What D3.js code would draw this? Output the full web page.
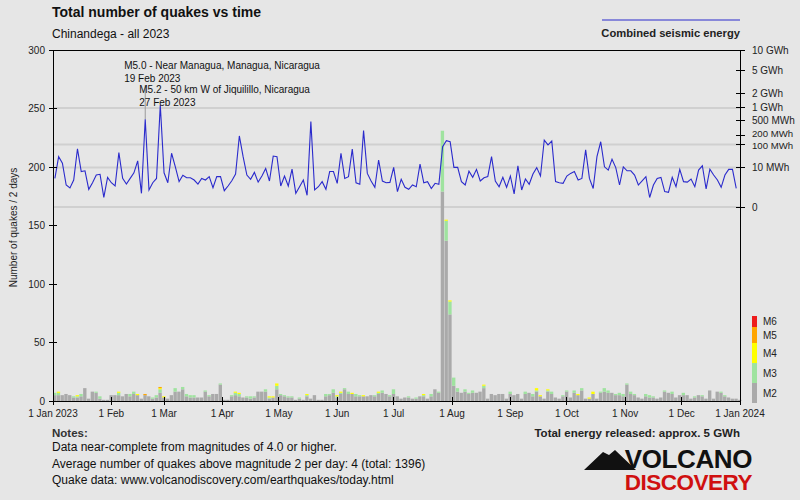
<!DOCTYPE html>
<html><head><meta charset="utf-8">
<script src="https://cdn.jsdelivr.net/npm/d3@7"></script>
<style>body{margin:0;background:#e6e6e6;} svg{display:block;font-family:'Liberation Sans',Arial,sans-serif;}</style>
</head><body><svg id="c" width="800" height="500"></svg>
<script>
// ---------- DATA ----------
const binStart = "2023-01-01";
const binDays = 2;
const m2 = [5,5,5,6,5,3,3,4,11,2, 8,7,2,1,1,5,5,5,4,6, 4,6,5,2,5,4,2,3,7,3, 2,5,8,8,10,4,3,3,3,3,
  8,4,6,6,14,1,1,4,5,4, 3,3,2,3,8,8,8,2,3,10, 5,4,3,3,1,2,1,4,2,5, 1,1,4,5,7,3,6,10,6,6,
  4,4,4,4,5,4,6,7,6,4, 6,4,2,3,3,2,2,4,4,2, 4,10,7,179,137,74,13,8,7,8, 6,7,7,8,11,2,6,5,6,6,
  2,6,5,6,2,6,7,4,8,4, 2,8,6,3,2,4,8,3,7,5, 9,2,2,6,2,7,8,7,7,5, 5,4,14,6,5,3,2,4,3,3,
  2,3,8,7,6,3,5,5,5,2, 3,5,4,2,9,2,8,7,4,3, 2,2,1];
const m3 = [2,2,0,0,0,1,1,2,0,0, 0,1,2,0,0,0,0,2,0,0, 2,2,0,0,0,0,1,2,3,0, 0,0,3,0,2,2,2,2,0,0,
  1,1,0,0,1,0,0,1,2,2, 0,1,2,1,0,0,2,1,0,3, 1,1,1,1,0,1,0,1,0,0, 0,0,2,1,3,1,1,1,2,0,
  2,1,0,0,0,1,1,2,0,1, 4,0,0,0,1,0,1,0,1,0, 2,0,1,52,17,11,7,3,0,2, 1,2,0,0,2,0,0,0,0,0,
  0,2,0,0,0,2,0,2,1,0, 0,1,2,0,0,1,1,0,2,0, 2,0,0,0,0,1,3,2,0,1, 2,2,1,2,1,0,0,2,2,1,
  0,0,1,0,2,0,0,2,0,0, 1,0,1,0,0,0,0,1,1,0, 0,0,0];
const m4 = [0,1,0,0,0,0,1,0,0,0, 0,0,0,0,0,0,0,1,0,0, 0,0,1,0,0,0,0,0,1,1, 0,0,0,0,0,0,0,0,0,0,
  0,0,0,0,0,0,0,0,1,1, 0,0,0,0,0,0,0,1,1,2, 0,0,0,0,0,0,0,1,0,0, 0,0,0,0,0,1,1,0,0,1,
  0,0,1,0,0,0,1,0,0,0, 0,0,0,0,0,0,0,0,1,0, 0,0,0,0,1,1,0,0,0,0, 0,0,0,0,1,0,0,0,0,0,
  0,0,0,0,0,0,0,0,2,1, 0,1,0,0,0,0,0,0,0,1, 0,0,1,2,0,0,0,0,0,0, 0,0,0,0,0,0,0,0,0,0,
  0,0,0,0,0,0,0,0,0,0, 0,0,0,0,0,0,0,0,0,0, 0,0,0];
const m5 = [0,0,0,0,0,0,0,0,0,0, 0,0,0,0,0,0,0,0,0,0, 0,0,0,0,1,0,0,0,1,0, 0,0,0,0,0,0,0,0,0,0,
  0,0,0,0,0,0,0,0,0,0, 0,0,0,0,0,0,0,0,0,0, 0,0,0,0,0,0,0,0,0,0, 0,0,0,0,0,0,0,0,0,0,
  0,0,0,0,0,0,0,0,0,0, 0,0,0,0,0,0,0,0,0,0, 0,0,0,0,0,0,0,0,0,0, 0,0,0,0,0,0,0,0,0,0,
  0,0,0,0,0,0,0,0,0,0, 0,0,0,0,0,0,0,0,0,0, 0,0,0,0,0,0,0,0,0,0, 0,0,0,0,0,0,0,0,0,0,
  0,0,0,0,0,0,0,0,0,0, 0,0,0,0,0,0,0,0,0,0, 0,0,0];
const m6 = [0,0,0,0,0,0,0,0,0,0, 0,0,0,0,0,0,0,0,0,0, 0,0,0,0,0,0,0,0,0,0, 0,0,0,0,0,0,0,0,0,0,
  0,0,0,0,0,0,0,0,0,0, 0,0,0,0,0,0,0,0,0,0, 0,0,0,0,0,0,0,0,0,0, 0,0,0,0,0,0,0,0,0,0,
  0,0,0,0,0,0,0,0,0,0, 0,0,0,0,0,0,0,0,0,0, 0,0,0,0,0,0,0,0,0,0, 0,0,0,0,0,0,0,0,0,0,
  0,0,0,0,0,0,0,0,0,0, 0,0,0,0,0,0,0,0,0,0, 0,0,0,0,0,0,0,0,0,0, 0,0,0,0,0,0,0,0,0,0,
  0,0,0,0,0,0,0,0,0,0, 0,0,0,0,0,0,0,0,0,0, 0,0,0];
// combined seismic energy per 2-day bin, MWh
const energyMWh = [2.0,33.8,17.1,0.54,0.26,1.5,70,5.9,6.5,0.18, 0.88,3.5,3.9,0.009,2.4,0.88,0.43,50,2.0,0.67,
  2.0,4.9,22,0.05,545,0.15,0.88,2.0,1160,4.9, 0.88,47,11,1.1,3.35,2.25,2.25,1.5,0.67,2.0,
  1.5,2.7,0.28,2.7,2.7,0.12,0.43,1.3,4.1,190, 33.8,3.5,1.7,5.2,1.0,3.0,9.0,1.24,36,33.8,
  0.43,3.0,0.43,8.15,0.05,0.36,1.5,0.023,475,0.15, 0.36,1.1,0.18,5.9,5.9,0.78,47,2.0,2.7,68,
  0.88,0.63,275,4.5,1.24,0.31,24,1.24,0.88,0.95, 10.3,0.09,1.7,
  0.31,0.18,0.54,0.36,15.3,0.88,1.1,0.23,0.78, 0.63,84,134,124,10.3,10.3,1.1,0.54,6.25,2.4,
  7.9,1.24,2.25,2.7,33.8,1.24,0.36,2.4,0.31,3.0, 0.04,12.5,0.15,1.8,0.63,4.1,9.9,3.0,141,97,
  131,1.1,0.88,0.78,3.0,4.5,5.9,1.5,2.0,64, 2.0,0.23,33.8,124,11,7.2,26,9.9,0.54,11,
  6.5,6.5,3.5,0.54,1.3,2.7,0.008,0.54,2.0,2.4, 0.09,0.07,2.4,0.36,7.9,1.1,1.0,1.8,0.36,7.2,
  12.5,0.2,8.15,3.5,1.5,0.31,3.5,7.9,7.9,0.23];
const magKeys = ["M2","M3","M4","M5","M6"];
const magColors = ["#aaaaaa","#9fe39f","#ffff00","#ffa500","#ee1c1c"];
const monthTicks = ["2023-01-01","2023-02-01","2023-03-01","2023-04-01","2023-05-01","2023-06-01","2023-07-01",
  "2023-08-01","2023-09-01","2023-10-01","2023-11-01","2023-12-01","2024-01-01"];
const monthLabels = ["1 Jan 2023","1 Feb","1 Mar","1 Apr","1 May","1 Jun","1 Jul","1 Aug","1 Sep","1 Oct","1 Nov","1 Dec","1 Jan 2024"];
const countTicks = [0,50,100,150,200,250,300];
const energyTicks = [0,10,100,200,500,1000,2000,5000,10000];
const energyLabels = ["0","10 MWh","100 MWh","200 MWh","500 MWh","1 GWh","2 GWh","5 GWh","10 GWh"];
const energyGrid = [0,10,100,1000];
const quakes = [
  {text:"M5.0 - Near Managua, Managua, Nicaragua", date:"2023-02-19", label:"19 Feb 2023"},
  {text:"M5.2 - 50 km W of Jiquilillo, Nicaragua", date:"2023-02-27", label:"27 Feb 2023"}
];
const notes = ["Data near-complete from magnitudes of 4.0 or higher.",
  "Average number of quakes above magnitude 2 per day: 4 (total: 1396)",
  "Quake data: www.volcanodiscovery.com/earthquakes/today.html"];

// ---------- CHART ----------
const svg = d3.select("#c");
const L = 53, R = 740, T = 50, B = 401;
const parse = d3.utcParse("%Y-%m-%d");
const t0 = parse(binStart);
const x = d3.scaleUtc().domain([parse("2023-01-01"), parse("2024-01-01")]).range([L, R]);
const yC = d3.scaleLinear().domain([0, 300]).range([B, T]);
const yE = d3.scalePow().exponent(0.2).domain([0, 10000]).range([207, T]);

svg.append("rect").attr("width", 800).attr("height", 500).attr("fill", "#e6e6e6");

// grid
svg.append("g").selectAll("line").data(energyGrid).join("line")
  .attr("x1", L).attr("x2", R).attr("y1", d => yE(d)).attr("y2", d => yE(d))
  .attr("stroke", "#d0d0d0").attr("stroke-width", 2);

// bars
const rows = m2.map((v, i) => ({i, M2: v, M3: m3[i], M4: m4[i], M5: m5[i], M6: m6[i]}));
const stack = d3.stack().keys(magKeys)(rows);
const bars = svg.append("g");
stack.forEach((layer, k) => {
  bars.append("g").attr("fill", magColors[k]).selectAll("rect")
    .data(layer.filter(d => d[1] > d[0])).join("rect")
    .attr("x", d => x(d3.utcDay.offset(t0, d.data.i * binDays)))
    .attr("width", d => Math.max(0, x(d3.utcDay.offset(t0, (d.data.i + 1) * binDays)) - x(d3.utcDay.offset(t0, d.data.i * binDays)) - 0.4))
    .attr("y", d => yC(d[1]))
    .attr("height", d => yC(d[0]) - yC(d[1]));
});

// energy line
const line = d3.line()
  .x((d, i) => x(d3.utcHour.offset(t0, (i * binDays + binDays / 2) * 24)))
  .y(d => yE(d));
svg.append("path").datum(energyMWh).attr("d", line)
  .attr("fill", "none").attr("stroke", "#2a2acc").attr("stroke-width", 1.1);

// quake annotations
const ann = svg.append("g").attr("font-size", 10).attr("fill", "#111");
quakes.forEach((q, k) => {
  const qx = x(parse(q.date));
  const ty = 69 + k * 24;
  ann.append("text").attr("x", qx - 21).attr("y", ty).text(q.text);
  ann.append("text").attr("x", qx - 21).attr("y", ty + 13).text(q.label);
});
{
  const q = quakes[0], qx = x(parse(q.date));
  const bi = Math.floor(d3.utcDay.count(t0, parse(q.date)) / binDays);
  svg.insert("line", "path").attr("x1", qx).attr("x2", qx).attr("y1", 85).attr("y2", yE(energyMWh[bi]))
    .attr("stroke", "#999").attr("stroke-width", 1);
}

// axes frame
const ax = svg.append("g").attr("stroke", "#000").attr("stroke-width", 1).attr("shape-rendering", "crispEdges");
ax.append("line").attr("x1", L).attr("x2", L).attr("y1", T).attr("y2", B);
ax.append("line").attr("x1", R).attr("x2", R).attr("y1", T).attr("y2", B);
ax.append("line").attr("x1", L).attr("x2", R).attr("y1", B).attr("y2", B);
ax.append("line").attr("x1", L).attr("x2", R).attr("y1", T).attr("y2", T);

// left axis
const la = svg.append("g").attr("font-size", 10).attr("fill", "#222");
countTicks.forEach(v => {
  ax.append("line").attr("x1", L - 4).attr("x2", L + 4).attr("y1", yC(v)).attr("y2", yC(v));
  la.append("text").attr("x", 45).attr("y", yC(v)).attr("dy", "0.35em").attr("text-anchor", "end").text(v);
});
svg.append("text").attr("transform", `translate(17,${(T + B) / 2 + 2}) rotate(-90)`)
  .attr("text-anchor", "middle").attr("font-size", 10).attr("fill", "#222").text("Number of quakes / 2 days");

// right axis
energyTicks.forEach((v, i) => {
  ax.append("line").attr("x1", R - 4).attr("x2", R + 5).attr("y1", yE(v)).attr("y2", yE(v));
  la.append("text").attr("x", 752).attr("y", yE(v)).attr("dy", v === 200 ? "0.2em" : (v === 100 ? "0.45em" : "0.35em"))
    .attr("font-size", (v === 100 || v === 200) ? 9.6 : 10).text(energyLabels[i]);
});

// bottom axis
monthTicks.forEach((d, i) => {
  const tx = x(parse(d));
  ax.append("line").attr("x1", tx).attr("x2", tx).attr("y1", B - 4).attr("y2", B + 4);
  la.append("text").attr("x", tx).attr("y", 417).attr("text-anchor", "middle").text(monthLabels[i]);
});

// magnitude legend
const lg = svg.append("g");
const legY = [316, 327, 343, 363, 383, 403];
magKeys.slice().reverse().forEach((k, j) => {
  lg.append("rect").attr("x", 752).attr("width", 5).attr("y", legY[j]).attr("height", legY[j + 1] - legY[j])
    .attr("fill", magColors[magKeys.length - 1 - j]);
  lg.append("text").attr("x", 763).attr("y", (legY[j] + legY[j + 1]) / 2).attr("dy", "0.35em")
    .attr("font-size", 10).attr("fill", "#222").text(k);
});

// titles
svg.append("text").attr("x", 52).attr("y", 17).attr("font-size", 14).attr("font-weight", "bold").attr("fill", "#111")
  .text("Total number of quakes vs time");
svg.append("text").attr("x", 52).attr("y", 38).attr("font-size", 12).attr("fill", "#111").text("Chinandega - all 2023");
svg.append("line").attr("x1", 602).attr("x2", 740).attr("y1", 20).attr("y2", 20).attr("stroke", "#2a2acc").attr("stroke-width", 1);
svg.append("text").attr("x", 740).attr("y", 37).attr("text-anchor", "end").attr("font-size", 11.2).attr("font-weight", "bold")
  .attr("fill", "#222").text("Combined seismic energy");

// notes
svg.append("text").attr("x", 52).attr("y", 437).attr("font-size", 11.5).attr("font-weight", "bold").attr("fill", "#333").text("Notes:");
notes.forEach((n, i) => svg.append("text").attr("x", 52).attr("y", 451 + i * 16.5).attr("font-size", 12).attr("fill", "#111").text(n));
svg.append("text").attr("x", 740).attr("y", 437).attr("text-anchor", "end").attr("font-size", 11.5).attr("font-weight", "bold")
  .attr("fill", "#222").text("Total energy released: approx. 5 GWh");

// logo
const logo = svg.append("g");
logo.append("path").attr("d", "M584,470 L603,452 L609,455 L615,450 L636,470 Z").attr("fill", "#111");
logo.append("text").attr("x", 752).attr("y", 468).attr("text-anchor", "end").attr("font-size", 26).attr("font-weight", "bold")
  .attr("fill", "#111").attr("letter-spacing", -0.4).text("VOLCANO");
logo.append("text").attr("x", 752).attr("y", 490).attr("text-anchor", "end").attr("font-size", 22.5).attr("font-weight", "bold")
  .attr("fill", "#d01010").attr("letter-spacing", -0.5).text("DISCOVERY");
</script></body></html>
